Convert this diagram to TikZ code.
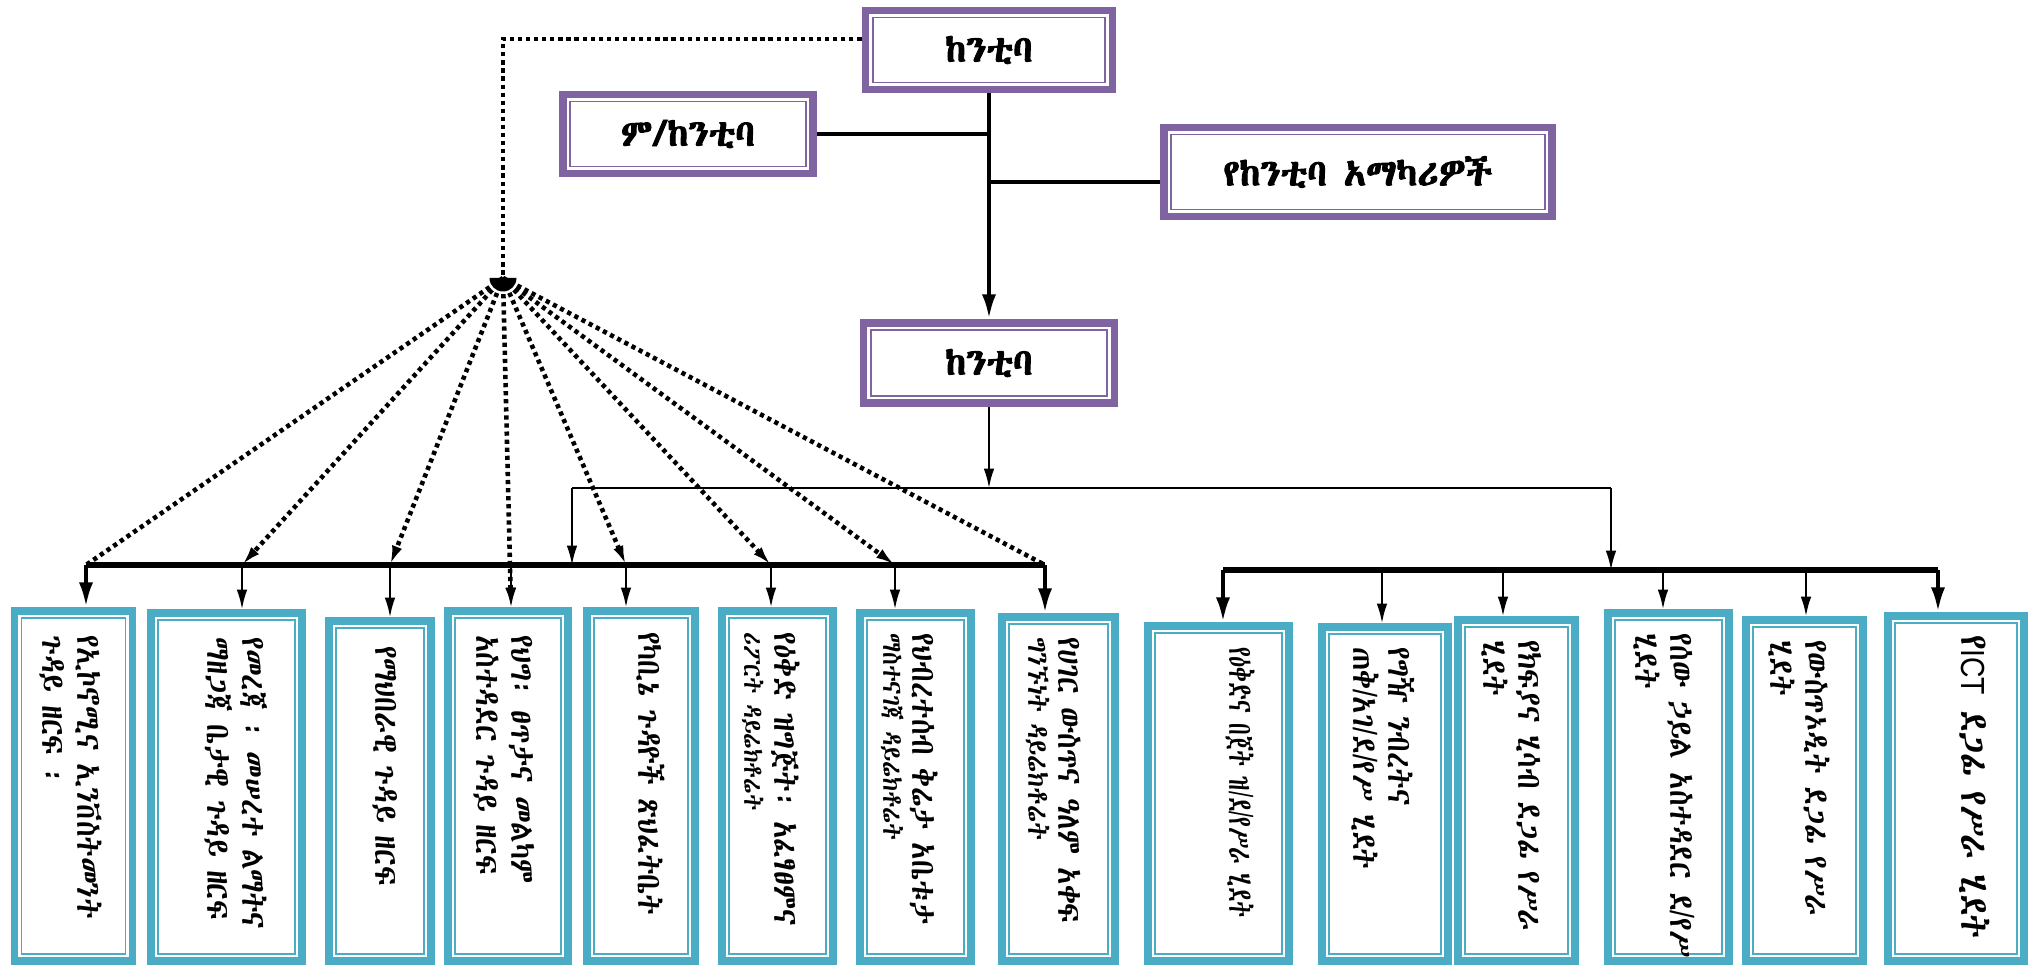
\documentclass[tikz,border=0pt]{standalone}
\usepackage{fontspec}
\usetikzlibrary{arrows.meta}
\newcommand\pickethfont[1]{\newfontfamily\ethfont{#1}\newfontfamily\ethbold[FakeBold=2.5]{#1}}
\IfFontExistsTF{Abyssinica SIL}
  {\pickethfont{Abyssinica SIL}}
  {\IfFontExistsTF{FreeSerif}
    {\pickethfont{FreeSerif}}
    {\IfFontExistsTF{FreeSerif.otf}
      {\pickethfont{FreeSerif.otf}}
      {\pickethfont{DejaVu Sans}}}}
\newfontfamily\latfont{Liberation Sans}
\newcommand\sla{{\latfont/}}
\definecolor{orgpurple}{RGB}{128,100,162}
\definecolor{orgteal}{RGB}{75,172,198}
\tikzset{
  frame/.style={fill=white, draw=#1, line width=1.1pt, double=white, double distance=1.2pt,
    preaction={draw=#1, line width=10.2pt}, inner sep=0pt, outer sep=5.1pt},
  headbox/.style={frame=orgpurple, font=\ethbold\fontsize{21}{24}\selectfont},
  unitbox/.style={frame=orgteal},
  unittext/.style={rotate=-90, xscale=0.85, anchor=north west, align=left, inner sep=0pt,
    font=\ethfont\fontsize{19}{20}\selectfont},
  spine/.style={line width=2.4pt, >={Latex[length=14pt,width=8pt]}},
  link/.style={line width=1.1pt},
  bus/.style={line width=3.6pt},
  dotline/.style={line width=2.6pt, dash pattern=on 2.4pt off 2.2pt}
}
\begin{document}
\begin{tikzpicture}[x=0.02cm,y=-0.02cm,>={Latex[length=11pt,width=6pt]}]
\useasboundingbox (0,0) rectangle (2040,966);

% head of the office
\node[headbox, minimum width=4.74cm, minimum height=1.38cm] (mayor) at (989,50) {ከንቲባ};
\node[headbox, minimum width=4.80cm, minimum height=1.38cm] (deputy) at (688,134) {ም/ከንቲባ};
\node[headbox, minimum width=7.56cm, minimum height=1.58cm] (advisors) at (1358,172) {የከንቲባ አማካሪዎች};
\node[headbox, minimum width=4.82cm, minimum height=1.40cm] (mayor2) at (989,363) {ከንቲባ};

\draw[spine,->] (mayor.south) -- (mayor2.north);
\draw[spine] (deputy.east) -- (deputy.east -| mayor.south);
\draw[spine] ([yshift=-0.2cm]advisors.west) -- ([yshift=-0.2cm]advisors.west -| mayor.south);

% split points and buses
\coordinate (split) at (989,488);
\coordinate (lsplit) at (572,488);
\coordinate (rsplit) at (1611,488);
\coordinate (lb1) at (86,565);
\coordinate (lb2) at (242,565);
\coordinate (lb3) at (390,565);
\coordinate (lb4) at (511,565);
\coordinate (lb5) at (626,565);
\coordinate (lb6) at (771,565);
\coordinate (lb7) at (895,565);
\coordinate (lb8) at (1045,565);
\coordinate (rb1) at (1223,570);
\coordinate (rb2) at (1382,570);
\coordinate (rb3) at (1503,570);
\coordinate (rb4) at (1663,570);
\coordinate (rb5) at (1806,570);
\coordinate (rb6) at (1938,570);
\coordinate (hub) at (503,278);

\draw[link,->] (mayor2.south) -- (split);
\draw[link] (lsplit) -- (rsplit);
\draw[link,->] (lsplit) -- (lsplit |- lb1);
\draw[link,->] (rsplit) -- (rsplit |- rb1);

% sectors
\node[unitbox, minimum width=2.16cm, minimum height=6.80cm] (b1) at (73.5,786) {};
\node[unitbox, minimum width=2.82cm, minimum height=6.76cm] (b2) at (226.5,787) {};
\node[unitbox, minimum width=1.84cm, minimum height=6.60cm] (b3) at (380,791) {};
\node[unitbox, minimum width=2.20cm, minimum height=6.80cm] (b4) at (508,786) {};
\node[unitbox, minimum width=1.96cm, minimum height=6.80cm] (b5) at (641,786) {};
\node[unitbox, minimum width=2.02cm, minimum height=6.80cm] (b6) at (777.5,786) {};
\node[unitbox, minimum width=2.02cm, minimum height=6.76cm] (b7) at (915.5,787) {};
\node[unitbox, minimum width=2.06cm, minimum height=6.68cm] (b8) at (1058.5,789) {};
% support processes
\node[unitbox, minimum width=2.62cm, minimum height=6.50cm] (b9) at (1218.5,793.5) {};
\node[unitbox, minimum width=2.32cm, minimum height=6.48cm] (b10) at (1385,794) {};
\node[unitbox, minimum width=2.14cm, minimum height=6.62cm] (b11) at (1516.5,790.5) {};
\node[unitbox, minimum width=2.22cm, minimum height=6.76cm] (b12) at (1668.5,787) {};
\node[unitbox, minimum width=2.14cm, minimum height=6.62cm] (b13) at (1804.5,790.5) {};
\node[unitbox, minimum width=2.52cm, minimum height=6.70cm] (b14) at (1956,788.5) {};

\node[unittext] (t1) at (102,635) {የኢኮኖሚና ኢንቨስትመንት\\ጉዳይ ዘርፍ ፡};
\node[unittext] (t2) at (268,637) {የመረጃ ፡ መሠረተ ልማትና\\ማዘጋጃ ቤታዊ ጉዳይ ዘርፍ};
\node[unittext] (t3) at (398,646) {የማህበራዊ ጉዳይ ዘርፍ};
\node[unittext] (t4) at (535,635) {የህግ፡ ፀጥታና መልካም\\አስተዳደር ጉዳይ ዘርፍ};
\node[unittext] (t5) at (665,632) {የካቢኔ ጉዳዮች ጽህፈትቤት};
\node[unittext] (t6) at (800,632) {የዕቅድ ዝግጅት፡ አፈፃፀምና\\[-3pt]{\fontsize{15}{20}\selectfont ሪፖርት ዳይሬክቶሬት}};
\node[unittext] (t7) at (938,633) {የህብረተሰብ ቅሬታ አቤቱታ\\[-4pt]{\fontsize{15.5}{20}\selectfont ማስተናገጃ ዳይሬክቶሬት}};
\node[unittext] (t8) at (1081,637) {የሀገር ውስጥና ዓለም አቀፍ\\[-3pt]{\fontsize{16.5}{20}\selectfont ግንኙነት ዳይሬክቶሬት}};
\node[unittext, xscale=0.78] (t9) at (1255,647) {የዕቅድና በጀት ዝ\sla ደ\sla የሥራ ሂደት};
\node[unittext] (t10) at (1415,647) {የግዥ ንብረትና\\ጠቅ\sla አገ\sla ደ\sla የሥ ሂደት};
\node[unittext] (t11) at (1542,640) {የክፍያና ሂሳብ ደጋፊ የሥራ\\ሂደት};
\node[unittext] (t12) at (1695,633) {የሰው ኃይል አስተዳደር ደ\sla የሥ\\ሂደት};
\node[unittext] (t13) at (1830,640) {የውስጥኦዲት ደጋፊ የሥራ\\ሂደት};
\node[unittext, font=\ethfont\fontsize{22}{22}\selectfont] (t14) at (1990,635) {የ{\latfont\fontsize{19}{22}\selectfont ICT} ደጋፊ የሥራ ሂደት};

% buses
\draw[bus] (lb1) -- (lb8);
\draw[bus] (rb1) -- (rb6);
\draw[spine,->] (lb1) -- (lb1 |- b1.north);
\draw[link,->] (lb2) -- (lb2 |- b2.north);
\draw[link,->] (lb3) -- (lb3 |- b3.north);
\draw[link,->] (lb4) -- (lb4 |- b4.north);
\draw[link,->] (lb5) -- (lb5 |- b5.north);
\draw[link,->] (lb6) -- (lb6 |- b6.north);
\draw[link,->] (lb7) -- (lb7 |- b7.north);
\draw[spine,->] (lb8) -- (lb8 |- b8.north);
\draw[spine,->] (rb1) -- (rb1 |- b9.north);
\draw[link,->] (rb2) -- (rb2 |- b10.north);
\draw[link,->] (rb3) -- (rb3 |- b11.north);
\draw[link,->] (rb4) -- (rb4 |- b12.north);
\draw[link,->] (rb5) -- (rb5 |- b13.north);
\draw[spine,->] (rb6) -- (rb6 |- b14.north);

% dotted line of supervision
\draw[dotline] ([yshift=0.22cm]mayor.west) -| (hub);
\draw[dotline] (hub) -- (lb1);
\draw[dotline,->] (hub) -- (lb2);
\draw[dotline,->] (hub) -- (lb3);
\draw[dotline,->] (hub) -- (lb4 |- b4.north);
\draw[dotline,->] (hub) -- (lb5);
\draw[dotline,->] (hub) -- (lb6);
\draw[dotline,->] (hub) -- (lb7);
\draw[dotline] (hub) -- (lb8);
\fill ([xshift=-0.27cm]hub) arc[start angle=180, end angle=360, radius=0.27cm] -- cycle;
\end{tikzpicture}
\end{document}
